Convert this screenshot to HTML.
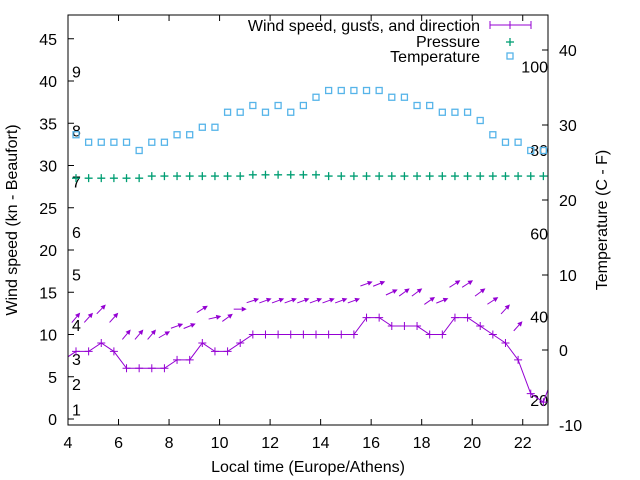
<!DOCTYPE html>
<html><head><meta charset="utf-8"><style>
body{margin:0;background:#fff}
svg{display:block;font-family:"Liberation Sans",sans-serif}
</style></head><body>
<svg id="chart" width="640" height="480" viewBox="0 0 640 480">
<defs><clipPath id="pc"><rect x="68" y="15" width="480" height="410"/></clipPath></defs>
<rect x="0" y="0" width="640" height="480" fill="#fff"/>
<g id="axes"></g>
<g id="series" clip-path="url(#pc)"></g>
<rect x="68" y="15" width="480" height="410" fill="none" stroke="#000" stroke-width="1"/>
<text x="17" y="220" font-size="16" text-anchor="middle" transform="rotate(-90 17 220)">Wind speed (kn - Beaufort)</text>
<text x="607" y="220" font-size="16" text-anchor="middle" transform="rotate(-90 607 220)">Temperature (C - F)</text>
<text x="308" y="472" font-size="16" text-anchor="middle">Local time (Europe/Athens)</text>
<g>
<text x="480" y="31" font-size="16" text-anchor="end">Wind speed, gusts, and direction</text>
<g stroke="#9400d3" stroke-width="1"><line x1="490" y1="25" x2="531" y2="25"/><line x1="490" y1="21" x2="490" y2="29"/><line x1="510" y1="21" x2="510" y2="29"/><line x1="531" y1="21" x2="531" y2="29"/></g>
<text x="480" y="47" font-size="16" text-anchor="end">Pressure</text>
<g stroke="#009e73" stroke-width="1.3"><line x1="506" y1="42" x2="514" y2="42"/><line x1="510" y1="38" x2="510" y2="46"/></g>
<text x="480" y="62" font-size="16" text-anchor="end">Temperature</text>
<rect x="507" y="53" width="6" height="6" fill="none" stroke="#56b4e9" stroke-width="1.3"/>
</g>
</svg>
<script>
const times=["03:49","04:19","04:49","05:19","05:49","06:19","06:49","07:19","07:49","08:19","08:49","09:19","09:49","10:19","10:49","11:19","11:49","12:19","12:49","13:19","13:49","14:19","14:49","15:19","15:49","16:19","16:49","17:19","17:49","18:19","18:49","19:19","19:49","20:19","20:49","21:19","21:49","22:19","22:49","23:19"];
const windSpeed=[7,8,8,9,8,6,6,6,6,7,7,9,8,8,9,10,10,10,10,10,10,10,10,10,12,12,11,11,11,10,10,12,12,11,10,9,7,3,2,6];
const gusts=[null,12,12,13,12,10,10,10,10,11,11,13,12,12,13,14,14,14,14,14,14,14,14,14,16,16,15,15,15,14,14,16,16,15,14,13,11,null,null,null];
const windDir=[null,220,222,224,222,220,220,220,240,250,248,238,257,234,270,252,250,250,250,250,250,250,250,250,250,248,245,234,233,235,248,237,237,233,237,223,222,null,null,null];
const pressure=[null,28.5,28.5,28.5,28.5,28.5,28.5,28.75,28.75,28.75,28.75,28.75,28.75,28.75,28.75,28.9,28.9,28.9,28.9,28.9,28.9,28.75,28.75,28.75,28.75,28.75,28.75,28.75,28.75,28.75,28.75,28.75,28.75,28.75,28.75,28.75,28.75,28.75,28.75,null];
const temperature=[null,28.7,27.7,27.7,27.7,27.7,26.6,27.7,27.7,28.7,28.7,29.7,29.7,31.7,31.7,32.6,31.7,32.6,31.7,32.6,33.7,34.6,34.6,34.6,34.6,34.6,33.7,33.7,32.6,32.6,31.7,31.7,31.7,30.6,28.7,27.7,27.7,26.6,26.6,null];
const xTicks=[4,6,8,10,12,14,16,18,20,22];
const yTicks=[0,5,10,15,20,25,30,35,40,45];
const y2Ticks=[-10,0,10,20,30,40];
const fTicks=[20,40,60,80,100];
const beaufortBounds=[1,4,7,11,17,22,28,34,41];

const NS="http://www.w3.org/2000/svg";
function hrs(t){const p=t.split(":");return +p[0]+(+p[1])/60;}
function X(h){return 68+(h-4)*480/19;}
function YL(v){return 419-8.45*v;}
function YR(c){return 350-7.5*c;}
function mk(tag,attrs,parent){const e=document.createElementNS(NS,tag);for(const k in attrs)e.setAttribute(k,attrs[k]);parent.appendChild(e);return e;}
const axes=document.getElementById("axes"),ser=document.getElementById("series");

xTicks.forEach(h=>{const x=X(h);
 const t=mk("line",{x1:x,y1:425,x2:x,y2:419,stroke:"#000"},axes);
 
 
 const t2=mk("line",{x1:x,y1:15,x2:x,y2:21,stroke:"#000"},axes);
 
 
 const l=mk("text",{x:x,y:448,"font-size":16,"text-anchor":"middle"},axes);l.textContent=h;
 
 
});
yTicks.forEach(v=>{const y=YL(v);
 const t=mk("line",{x1:68,y1:y,x2:74,y2:y,stroke:"#000"},axes);
 
 
 const l=mk("text",{x:57,y:y+6,"font-size":16,"text-anchor":"end"},axes);l.textContent=v;
 
 
});
y2Ticks.forEach(v=>{const y=YR(v);
 const t=mk("line",{x1:542,y1:y,x2:548,y2:y,stroke:"#000"},axes);
 
 
 const l=mk("text",{x:559,y:y+6,"font-size":16,"text-anchor":"start"},axes);l.textContent=v;
 
 
});
fTicks.forEach(f=>{const y=YR((f-32)*5/9);
 const l=mk("text",{x:548,y:y+6,"font-size":16,"text-anchor":"end"},axes);l.textContent=f;
 
 
});
beaufortBounds.forEach((b,i)=>{const y=YL(b)-1;
 const l=mk("text",{x:72,y:y+6,"font-size":16,"text-anchor":"start"},axes);l.textContent=i+1;
 
 
});

temperature.forEach((c,i)=>{if(c==null)return;const x=X(hrs(times[i])),y=YR(c);
 const r=mk("rect",{x:x-3,y:y-3,width:6,height:6,fill:"none",stroke:"#56b4e9","stroke-width":1.3},ser);
 
 
});
pressure.forEach((p,i)=>{if(p==null)return;const x=X(hrs(times[i])),y=YL(p);
 const g=mk("path",{d:`M${x-4} ${y}H${x+4}M${x} ${y-4}V${y+4}`,stroke:"#009e73","stroke-width":1.3,fill:"none"},ser);
 
 
});
const pts=windSpeed.map((v,i)=>X(hrs(times[i]))+","+YL(v)).join(" ");
const pl=mk("polyline",{points:pts,fill:"none",stroke:"#9400d3","stroke-width":1},ser);


windSpeed.forEach((v,i)=>{const x=X(hrs(times[i])),y=YL(v);
 const m=mk("path",{d:`M${x-4} ${y}H${x+4}M${x} ${y-4}V${y+4}`,stroke:"#9400d3","stroke-width":1,fill:"none"},ser);
 
 
});
gusts.forEach((g,i)=>{if(g==null||windDir[i]==null)return;
 const cx=X(hrs(times[i])),cy=YL(g);const a=(270-windDir[i])*Math.PI/180;
 const dx=Math.cos(a),dy=-Math.sin(a),L=13;
 const x1=cx-dx*L/2,y1=cy-dy*L/2,x2=cx+dx*L/2,y2=cy+dy*L/2;
 const px=-dy,py=dx,hl=5,hw=2.5;
 const bx=x2-dx*hl,by=y2-dy*hl;
 const grp=mk("g",{},ser);
 
 
 mk("line",{x1:x1,y1:y1,x2:bx,y2:by,stroke:"#9400d3","stroke-width":1},grp);
 mk("polygon",{points:`${x2},${y2} ${bx+px*hw},${by+py*hw} ${bx-px*hw},${by-py*hw}`,fill:"#9400d3"},grp);
});
</script>
</body></html>
